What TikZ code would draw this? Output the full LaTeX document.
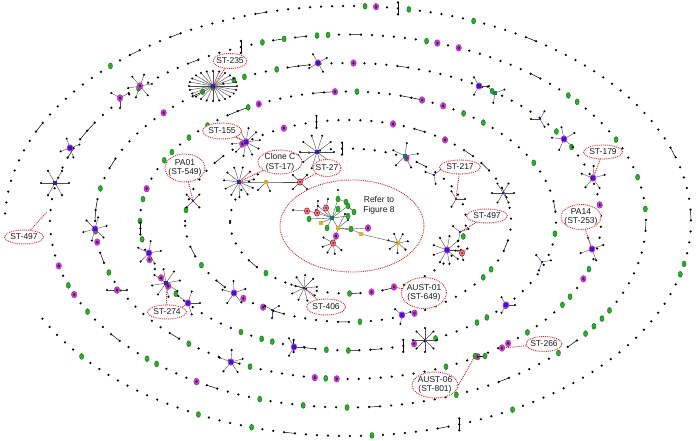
\documentclass[tikz,border=0pt]{standalone}
\usepackage{fontspec}
\setmainfont{Liberation Sans}
\usetikzlibrary{shapes.geometric}
\definecolor{gr}{RGB}{40,175,40}
\definecolor{grd}{RGB}{20,90,20}
\definecolor{mg}{RGB}{205,60,215}
\definecolor{mgd}{RGB}{80,20,90}
\definecolor{hb}{RGB}{60,20,210}
\definecolor{tlc}{RGB}{20,120,110}
\definecolor{yl}{RGB}{225,175,40}
\definecolor{pk}{RGB}{240,130,150}
\definecolor{lr}{RGB}{225,30,30}
\tikzset{
 labe/.style={ellipse, draw=lr, fill=white, densely dotted, line width=0.9pt, inner sep=0pt},
 labt/.style={inner sep=0pt, font=\fontsize{8.5}{9.8}\selectfont, text=black!90, align=center},
 conn/.style={draw=lr, densely dotted, line width=0.9pt},
 spoke/.style={draw=black!70, line width=0.4pt},
 link/.style={draw=black, line width=0.5pt},
}
\newcommand\lab[6]{\node[labe, minimum width=#4pt, minimum height=#5pt] (#1) at (#2,#3) {}; \node[labt] (#1t) at (#2,#3) {#6};}
\newcommand\bdot[1]{\fill (#1) circle (1.25pt);}
\newcommand\gdot[1]{\filldraw[fill=gr, draw=grd, line width=0.3pt] (#1) ellipse [x radius=2.1pt, y radius=3pt];}
\newcommand\mdot[1]{\filldraw[fill=mg, draw=mg!70!black, line width=0.3pt] (#1) ellipse [x radius=2.8pt, y radius=3.4pt]; \fill[mgd] (#1) ellipse [x radius=1.3pt, y radius=1.8pt];}
\newcommand\hubB[1]{\fill[hb] (#1) ++(-1.8pt,-1.8pt) rectangle ++(3.6pt,3.6pt);}
\newcommand\hubS[1]{\fill[hb] (#1) ++(-1.2pt,-1.2pt) rectangle ++(2.4pt,2.4pt);}
\newcommand\hubP[1]{\fill[mg!75!hb] (#1) ellipse [x radius=3.2pt, y radius=3.6pt]; \fill[hb] (#1) ++(-1.6pt,-1.6pt) rectangle ++(3.2pt,3.2pt);}
\newcommand\hubM[1]{\mdot{#1}}
\newcommand\hubT[1]{\fill[tlc] (#1) ++(-1.8pt,-1.8pt) rectangle ++(3.6pt,3.6pt);}
\newcommand\hubY[1]{\fill[yl] (#1) ++(-1.6pt,-1.6pt) rectangle ++(3.2pt,3.2pt);}
\newcommand\hubK[1]{\filldraw[fill=pk, draw=red!60!black, line width=0.4pt] (#1) ellipse [x radius=2.6pt, y radius=3.2pt]; \fill[red!50!black] (#1) circle (1pt);}
% name, x, y, n, length, phase, hub macro
\newcommand\hubstar[7]{%
  \coordinate (#1) at (#2,#3);
  \foreach \i in {1,...,#4}{\pgfmathsetmacro\aa{#6+360*\i/#4}\draw[spoke] (#1) -- ++(\aa:#5pt) coordinate (tmpe); \fill (tmpe) circle (1.15pt);}
  #7{#1}}
\def\cx{348}\def\cy{221}\def\spacing{11}
% rx, ry, start, end, p green, p magenta, p link
\newcommand\ringdots[7]{%
 \def\rrx{#1}\def\rry{#2}\def\phend{#4}%
 \pgfmathsetmacro\ph{#3}%
 \pgfmathsetmacro\thA{#5}\pgfmathsetmacro\thB{#5+#6}\pgfmathsetmacro\thC{#5+#6+#7}\pgfmathsetmacro\thD{#5+#6+#7+0.02}%
 \loop
  \pgfmathsetmacro\px{\cx+\rrx*cos(\ph)}%
  \pgfmathsetmacro\py{\cy-\rry*sin(\ph)}%
  \pgfmathsetmacro\dph{\spacing/(100*sqrt((\rrx*sin(\ph)/100)^2+(\rry*cos(\ph)/100)^2))*57.29578}%
  \pgfmathsetmacro\ph{\ph-\dph}%
  \pgfmathsetmacro\qx{\cx+\rrx*cos(\ph)}%
  \pgfmathsetmacro\qy{\cy-\rry*sin(\ph)}%
  \pgfmathsetmacro\rv{rnd}%
  \ifdim\rv pt<\thA pt \gdot{\px,\py}%
  \else\ifdim\rv pt<\thB pt \mdot{\px,\py}%
  \else\ifdim\rv pt<\thC pt \draw[link] (\px,\py) -- (\qx,\qy); \bdot{\px,\py}%
  \else\ifdim\rv pt<\thD pt \draw[link] (\px,\py-6) -- (\px,\py+6); \bdot{\px,\py-6}\bdot{\px,\py}\bdot{\px,\py+6}%
  \else \bdot{\px,\py}%
  \fi\fi\fi\fi
  \ifdim\ph pt>\phend pt
 \repeat}
\begin{document}
\begin{tikzpicture}[x=1pt,y=-1pt]
\useasboundingbox[fill=white] (0,0) rectangle (697,441);
\pgfmathsetseed{2718}
% spiral rings
\ringdots{343}{215}{178}{-153}{0.07}{0.01}{0.04}
\ringdots{298}{186.5}{180}{-179}{0.15}{0.06}{0.07}
\ringdots{253}{158}{180}{-179}{0.16}{0.07}{0.07}
\ringdots{208}{129.5}{180}{-179}{0.14}{0.06}{0.08}
\ringdots{163}{101}{180}{-179}{0.16}{0.06}{0.07}
\ringdots{118}{72.5}{180}{-179}{0.08}{0.05}{0.08}
% big star ST-235 (wider than tall)
\coordinate (S235) at (213,86);
\foreach \i in {1,...,24}{\pgfmathsetmacro\aa{360*\i/24}\draw[spoke] (S235) -- ++({24*cos(\aa)},{15*sin(\aa)}) coordinate (tmpe); \fill (tmpe) circle (1.15pt);}
\hubB{S235}
% stars
\hubstar{s2}{140}{86}{6}{12}{10}{\hubM}
\hubstar{s3}{120}{98}{3}{10}{30}{\hubM}
\hubstar{s4}{70}{148}{4}{10}{20}{\hubP}
\hubstar{s5}{55}{183}{6}{14}{0}{\hubB}
\hubstar{s6}{95}{229}{6}{12}{15}{\hubP}
\hubstar{s7}{149}{253}{5}{12}{10}{\hubP}
\hubstar{S274}{166}{283}{8}{14}{10}{\hubB}
\hubstar{s9}{188}{303}{5}{12}{0}{\hubP}
\hubstar{s10}{117}{290}{2}{10}{0}{\hubM}
\hubstar{s11}{234}{293}{5}{12}{20}{\hubP}
\hubstar{S406}{304}{288}{9}{13}{5}{\hubS}
\hubstar{s13}{272}{310}{3}{8}{30}{\hubS}
\hubstar{s14}{294}{347}{3}{10}{0}{\hubP}
\hubstar{s15}{231}{362}{5}{12}{15}{\hubP}
\hubstar{S155}{246}{142}{10}{14}{8}{\hubP}
\hubstar{s18}{317}{152}{10}{17}{0}{\hubB}
\hubstar{s19}{318}{63}{4}{10}{30}{\hubP}
\hubstar{S549}{193}{201}{4}{9}{45}{\hubS}
\hubstar{s21}{479}{86}{3}{10}{0}{\hubP}
\hubstar{s22}{495}{93}{3}{10}{20}{\hubT}
\hubstar{s23}{540}{119}{3}{9}{60}{\hubS}
\hubstar{s24}{564}{139}{5}{12}{30}{\hubP}
\hubstar{s25}{405}{156}{5}{13}{10}{\hubT}
\hubstar{s26}{434}{175}{3}{9}{40}{\hubS}
\hubstar{S217}{456}{199}{3}{9}{0}{\hubS}
\hubstar{s28}{503}{193}{6}{11}{0}{\hubS}
\hubstar{S497}{460}{232}{3}{9}{20}{\hubS}
\hubstar{s30}{447}{250}{9}{14}{0}{\hubP}
\hubstar{s31}{462}{253}{3}{7}{40}{\hubK}
\hubstar{S179}{593}{178}{5}{12}{15}{\hubP}
\hubstar{S253}{592}{249}{4}{12}{20}{\hubP}
\hubstar{s34}{542}{262}{3}{9}{10}{\hubS}
\hubstar{s35}{506}{305}{3}{9}{0}{\hubP}
\hubstar{s36}{425}{340}{8}{12}{0}{\hubS}
\hubstar{s37}{402}{315}{3}{9}{20}{\hubP}
% Clone C cluster
\hubstar{SCC}{239}{182}{11}{15}{10}{\hubB}
\coordinate (Y1) at (266,182);
\coordinate (K27) at (300,182);
\draw[spoke] (SCC) -- (Y1) -- (K27);
\draw[spoke] (Y1) -- ++(-8pt,-8pt) coordinate (y1a); \fill (y1a) circle (1.15pt);
\draw[spoke] (Y1) -- ++(4pt,-9pt) coordinate (y1b); \fill (y1b) circle (1.15pt);
\hubY{Y1}
\hubstar{K27}{300}{182}{4}{10}{45}{\hubK}
% central network
\node[ellipse, draw=lr, densely dotted, line width=0.9pt, minimum width=144pt, minimum height=92pt, inner sep=0pt] (C8) at (352,226) {};
\node[labt] (T8) at (379,205) {Refer to\\Figure 8};
\coordinate (T) at (332,218);
\coordinate (K1) at (326,208); \coordinate (K2) at (317,213); \coordinate (K3) at (307,211);
\coordinate (G1) at (338,209); \coordinate (G2) at (348,206); \coordinate (G3) at (338,199);
\coordinate (G4) at (348,216); \coordinate (G5) at (309,219); \coordinate (G6) at (327,228);
\coordinate (Y2) at (338,228); \coordinate (G7) at (351,229); \coordinate (Y3) at (361,234);
\coordinate (M1) at (368,228); \coordinate (M2) at (336,236); \coordinate (K4) at (333,243);
\coordinate (Y4) at (321,223); \coordinate (B1) at (338,190);
\coordinate (B2) at (293,210); \coordinate (B3) at (318,201); \coordinate (B4) at (328,199);
\draw[spoke] (T) -- (K1) -- (B4); \draw[spoke] (T) -- (K2) -- (K3) -- (B2); \draw[spoke] (K2) -- (B3);
\draw[spoke] (T) -- (G1); \draw[spoke] (T) -- (G2); \draw[spoke] (T) -- (G3) -- (B1);
\draw[spoke] (T) -- (G4); \draw[spoke] (T) -- (G5); \draw[spoke] (T) -- (G6); \draw[spoke] (T) -- (Y4);
\draw[spoke] (T) -- (Y2) -- (G7) -- (Y3);
\draw[spoke] (G7) -- (M1); \draw[spoke] (Y2) -- (M2) -- (K4);
\draw[spoke] (G3) -- ++(8pt,-3pt) coordinate (g3a); \gdot{g3a}
\draw[spoke] (G2) -- ++(6pt,-6pt) coordinate (g2a); \gdot{g2a}
\draw[spoke] (T) -- ++(-16pt,8pt) coordinate (ta); \fill (ta) circle (1.15pt);
\draw[spoke] (T) -- ++(-14pt,12pt) coordinate (tb); \fill (tb) circle (1.15pt);
\draw[spoke] (Y2) -- ++(12pt,-2pt) coordinate (ya); \fill (ya) circle (1.15pt);
\draw[spoke] (Y2) -- ++(10pt,8pt) coordinate (yb); \fill (yb) circle (1.15pt);
\draw[spoke] (Y2) -- ++(7pt,14pt) coordinate (yc); \fill (yc) circle (1.15pt);
\hubstar{H2}{398}{243}{7}{10}{10}{\hubY}
\draw[spoke] (Y3) -- (H2);
\foreach \a in {150,200,240,280,320}{\draw[spoke] (K4) -- ++(\a:11pt) coordinate (ka); \fill (ka) circle (1.15pt);}
\foreach \n in {B1,B2,B3,B4}{\fill (\n) circle (1.15pt);}
\foreach \n in {K1,K2,K3,K4}{\hubK{\n}}
\foreach \n in {G1,G2,G3,G4,G5,G6,G7}{\gdot{\n}}
\foreach \n in {M1,M2}{\mdot{\n}}
\hubY{Y2}\hubY{Y3}\hubY{Y4}
\hubT{T}
% connector end points
\coordinate (P497) at (47,212);
\coordinate (M01) at (394,287); \mdot{M01}
\coordinate (M266) at (502,348); \mdot{M266}
\coordinate (G06) at (475,356); \coordinate (G06b) at (485,356);
\draw[link] (G06) -- (G06b); \gdot{G06}\gdot{G06b}
% labels
\lab{L235}{230}{61}{34}{15}{ST-235}
\lab{L155}{222}{131}{39}{16}{ST-155}
\lab{LPA01}{185}{168}{40}{28}{PA01\\(ST-549)}
\lab{LCC}{280}{162}{44}{24}{Clone C\\(ST-17)}
\lab{L27}{327}{168}{28}{17}{ST-27}
\lab{L179}{603}{152}{39}{14}{ST-179}
\lab{L217}{460}{167}{41}{14}{ST-217}
\lab{L497r}{487}{216}{41}{14}{ST-497}
\lab{LPA14}{581}{217}{40}{25}{PA14\\(ST-253)}
\lab{L497l}{24}{237}{39}{14}{ST-497}
\lab{L274}{167}{312}{39}{14}{ST-274}
\lab{L406}{326}{307}{39}{16}{ST-406}
\lab{LA01}{424}{293}{45}{31}{AUST-01\\(ST-649)}
\lab{L266}{544}{344}{36}{15}{ST-266}
\lab{LA06}{435}{385}{46}{26}{AUST-06\\(ST-801)}
% connectors
\draw[conn] (L235) -- (S235);
\draw[conn] (L155) -- (S155);
\draw[conn] (LPA01) -- (S549);
\draw[conn] (LCC) -- (SCC);
\draw[conn] (L27) -- (K27);
\draw[conn] (L179) -- (S179);
\draw[conn] (L217) -- (S217);
\draw[conn] (L497r) -- (S497);
\draw[conn] (LPA14) -- (S253);
\draw[conn] (L497l) -- (P497);
\draw[conn] (L274) -- (S274);
\draw[conn] (L406) -- (S406);
\draw[conn] (LA01) -- (M01);
\draw[conn] (L266) -- (M266);
\draw[conn] (LA06.east) -- (G06);
\end{tikzpicture}
\end{document}
